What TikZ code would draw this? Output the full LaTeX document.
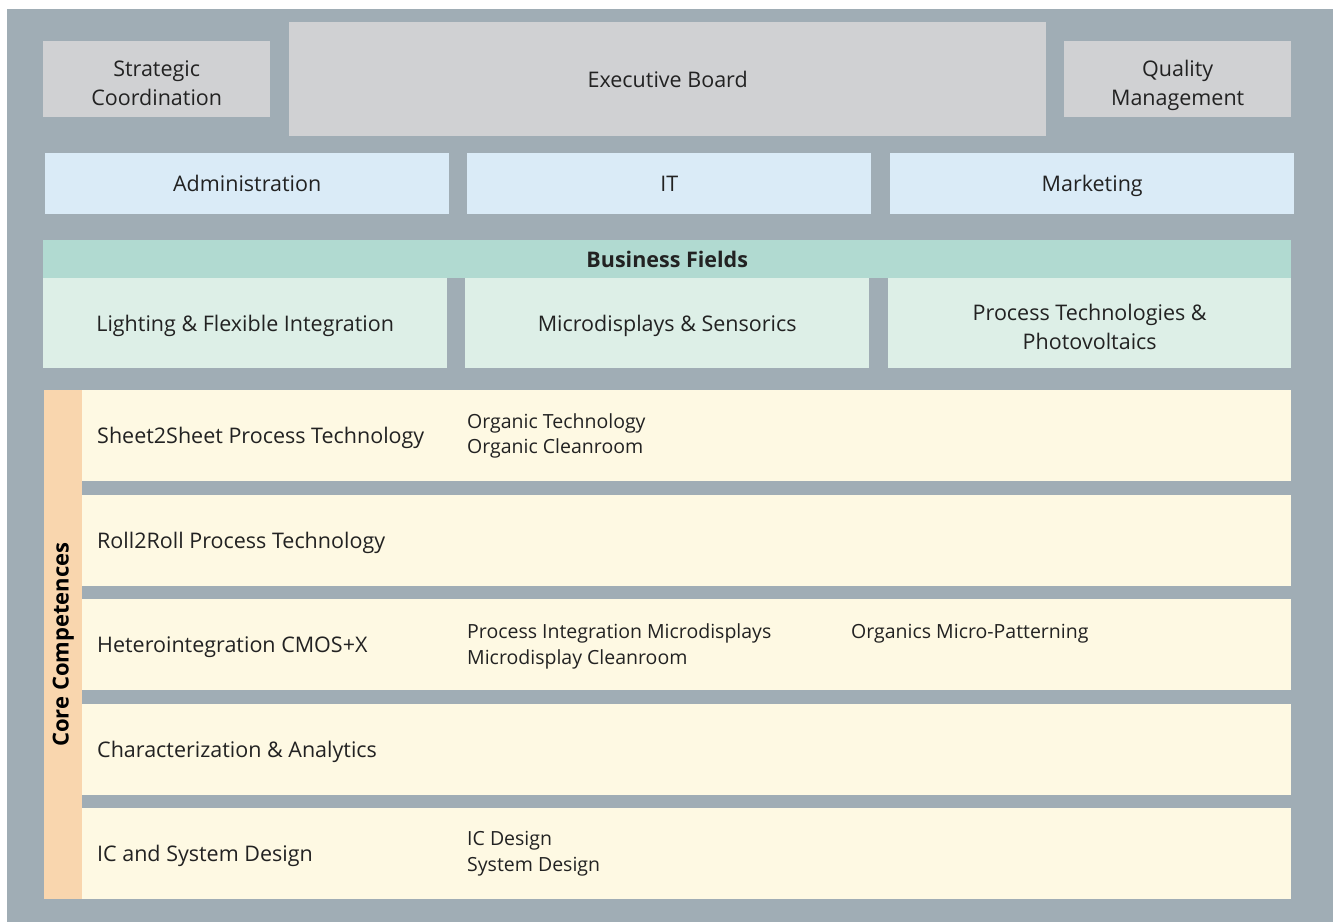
\documentclass[tikz,border=0pt]{standalone}
\usepackage{fontspec}
\setmainfont{Open Sans}
\usetikzlibrary{positioning}

\definecolor{framegray}{HTML}{A0ADB5}
\definecolor{boardgray}{HTML}{D0D1D3}
\definecolor{servblue}{HTML}{DAEBF7}
\definecolor{fieldhead}{HTML}{B1DAD1}
\definecolor{fieldgreen}{HTML}{DDEFE7}
\definecolor{corebar}{HTML}{F9D6AE}
\definecolor{coreyellow}{HTML}{FEF9E3}
\definecolor{inktext}{HTML}{222222}

% same height and depth for every label, descenders or not
\newcommand\capstrut{\rule[-6pt]{0pt}{28.3pt}}
% taller first line so two-line labels sit in the middle
\newcommand\twostrut{\rule[-6pt]{0pt}{36.3pt}}

\tikzset{
  box/.style={anchor=north west, inner sep=0pt, align=center, text=inktext,
    font=\fontsize{21.5}{29}\selectfont, execute at begin node=\capstrut},
  board/.style={box, fill=boardgray},
  service/.style={box, fill=servblue},
  field/.style={box, fill=fieldgreen},
  corerow/.style={box, fill=coreyellow, minimum width=1209pt, minimum height=91pt},
  rowlabel/.style={anchor=west, inner sep=0pt, text=inktext,
    font=\fontsize{21.5}{29}\selectfont, execute at begin node=\capstrut},
  dept/.style={anchor=west, inner sep=0pt, align=left, text=inktext,
    font=\fontsize{19.5}{25.5}\selectfont},
}

\begin{document}
\begin{tikzpicture}[x=1pt, y=-1pt]
  \useasboundingbox (0,0) rectangle (1333,922);
  \fill[framegray] (7,9) rectangle (1333,922);

  % management
  \node[board, minimum width=227pt, minimum height=76pt] (strat) at (43,41) {\twostrut Strategic\\Coordination};
  \node[board, minimum width=757pt, minimum height=114pt] (exec) at (289,22) {Executive Board};
  \node[board, minimum width=227pt, minimum height=76pt] (quality) at (1064,41) {\twostrut Quality\\Management};

  % central services
  \node[service, minimum width=404pt, minimum height=61pt] (admin) at (45,153) {Administration};
  \node[service, minimum width=404pt, minimum height=61pt] (it) at (467,153) {IT};
  \node[service, minimum width=404pt, minimum height=61pt] (marketing) at (890,153) {Marketing};

  % business fields
  \node[box, fill=fieldhead, minimum width=1248pt, minimum height=38pt, font=\fontsize{21.5}{26}\selectfont\bfseries] (bfhead) at (43,240) {Business Fields};
  \node[field, minimum width=404pt, minimum height=90pt] (lighting) at (43,278) {Lighting \& Flexible Integration};
  \node[field, minimum width=404pt, minimum height=90pt] (microdisp) at (465,278) {Microdisplays \& Sensorics};
  \node[field, minimum width=403pt, minimum height=90pt] (pvtech) at (888,278) {\twostrut Process Technologies \&\\Photovoltaics};

  % core competences
  \node[box, fill=corebar, minimum width=38pt, minimum height=509pt] (corebar) at (44,390) {};
  \node[rotate=90, text=black, font=\fontsize{22}{26}\selectfont\bfseries] (corelabel) at (corebar.center) {Core Competences};

  \node[corerow] (s2s) at (82,390) {};
  \node[corerow] (r2r) at (82,494.5) {};
  \node[corerow] (hetero) at (82,599) {};
  \node[corerow] (charact) at (82,703.5) {};
  \node[corerow] (icdesign) at (82,808) {};

  \node[rowlabel] (s2slabel) at ([xshift=15pt]s2s.west) {Sheet2Sheet Process Technology};
  \node[rowlabel] (r2rlabel) at ([xshift=15pt]r2r.west) {Roll2Roll Process Technology};
  \node[rowlabel] (heterolabel) at ([xshift=15pt]hetero.west) {Heterointegration CMOS+X};
  \node[rowlabel] (charactlabel) at ([xshift=15pt]charact.west) {Characterization \& Analytics};
  \node[rowlabel] (iclabel) at ([xshift=15pt]icdesign.west) {IC and System Design};

  \node[dept] (s2sdept) at ([xshift=385pt]s2s.west) {Organic Technology\\Organic Cleanroom};
  \node[dept] (heterodept) at ([xshift=385pt, yshift=-1.5pt]hetero.west) {Process Integration Microdisplays\\Microdisplay Cleanroom};
  \node[dept, anchor=north west] (heteroorg) at ([xshift=384pt]heterodept.north west) {Organics Micro-Patterning};
  \node[dept] (icdept) at ([xshift=385pt]icdesign.west) {IC Design\\System Design};
\end{tikzpicture}
\end{document}
